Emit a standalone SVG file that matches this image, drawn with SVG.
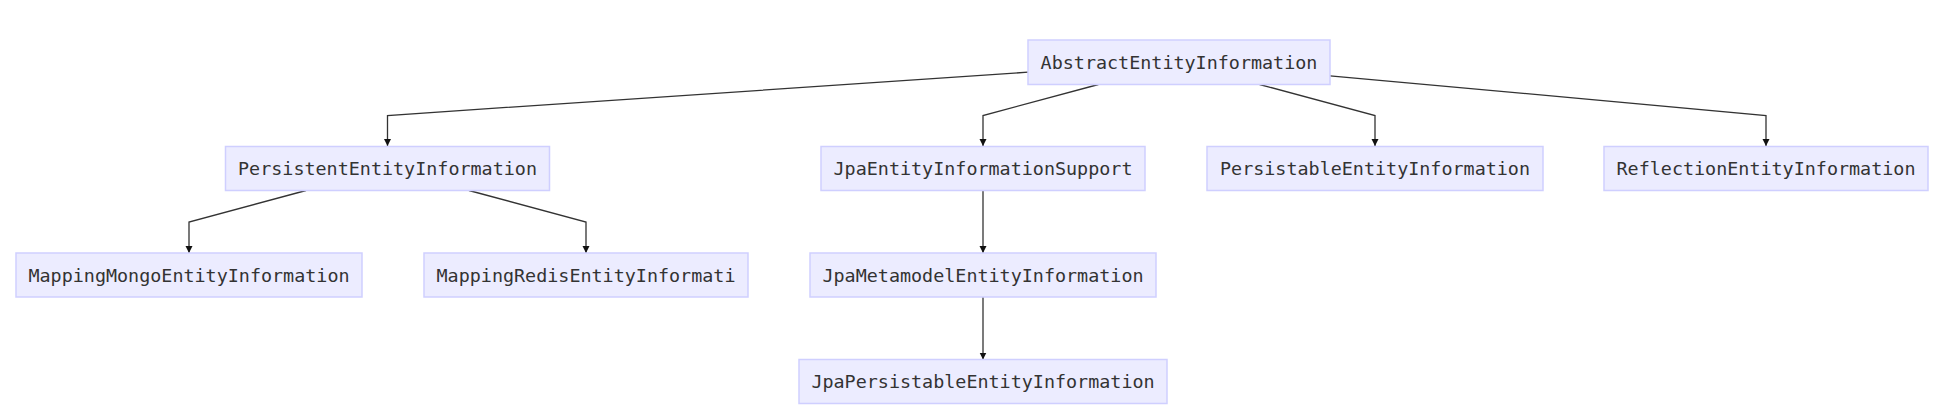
<svg xmlns="http://www.w3.org/2000/svg" width="1944" height="418" viewBox="0 0 1944 418">
<style>
.node rect{fill:#ECECFF;stroke:#CFCFFF;stroke-width:1.5}
.node text{font-family:"DejaVu Sans Mono","Liberation Mono",monospace;font-size:18.4px;fill:#333;text-anchor:middle;dominant-baseline:central}
.edge{fill:none;stroke:#333;stroke-width:1.3}
</style>
<defs>
<marker id="arr" markerWidth="8" markerHeight="8" refX="7" refY="4" orient="auto" markerUnits="userSpaceOnUse">
<path d="M0,0.5 L7,4 L0,7.5 Z" fill="#111"/>
</marker>
</defs>
<rect width="1944" height="418" fill="#fff"/>
<g id="connectors">
<path class="edge" d="M1028,72.2 L387.5,115.5 L387.5,146" marker-end="url(#arr)"/>
<path class="edge" d="M1098.4,84.5 L983,115.5 L983,146" marker-end="url(#arr)"/>
<path class="edge" d="M1259.6,84.5 L1375,115.5 L1375,146" marker-end="url(#arr)"/>
<path class="edge" d="M1330,75.8 L1766,115.5 L1766,146" marker-end="url(#arr)"/>
<path class="edge" d="M306,190.5 L189,222 L189,253" marker-end="url(#arr)"/>
<path class="edge" d="M469,190.5 L586,222 L586,253" marker-end="url(#arr)"/>
<path class="edge" d="M983,190.5 L983,253" marker-end="url(#arr)"/>
<path class="edge" d="M983,297 L983,359.5" marker-end="url(#arr)"/>
</g>
<g id="AbstractEntityInformation" class="node"><rect x="1028" y="40" width="302" height="44.5"/><text x="1179" y="62.5">AbstractEntityInformation</text></g>
<g id="PersistentEntityInformation" class="node"><rect x="225.5" y="146.5" width="324" height="44"/><text x="387.5" y="168.5">PersistentEntityInformation</text></g>
<g id="JpaEntityInformationSupport" class="node"><rect x="821" y="146.5" width="324" height="44"/><text x="983" y="168.5">JpaEntityInformationSupport</text></g>
<g id="PersistableEntityInformation" class="node"><rect x="1207" y="146.5" width="336" height="44"/><text x="1375" y="168.5">PersistableEntityInformation</text></g>
<g id="ReflectionEntityInformation" class="node"><rect x="1604" y="146.5" width="324" height="44"/><text x="1766" y="168.5">ReflectionEntityInformation</text></g>
<g id="MappingMongoEntityInformation" class="node"><rect x="16" y="253" width="346" height="44"/><text x="189" y="275">MappingMongoEntityInformation</text></g>
<g id="MappingRedisEntityInformation" class="node"><rect x="424" y="253" width="324" height="44"/><text x="586" y="275">MappingRedisEntityInformati</text></g>
<g id="JpaMetamodelEntityInformation" class="node"><rect x="810" y="253" width="346" height="44"/><text x="983" y="275">JpaMetamodelEntityInformation</text></g>
<g id="JpaPersistableEntityInformation" class="node"><rect x="799" y="359.5" width="368" height="44"/><text x="983" y="381.5">JpaPersistableEntityInformation</text></g>
</svg>
